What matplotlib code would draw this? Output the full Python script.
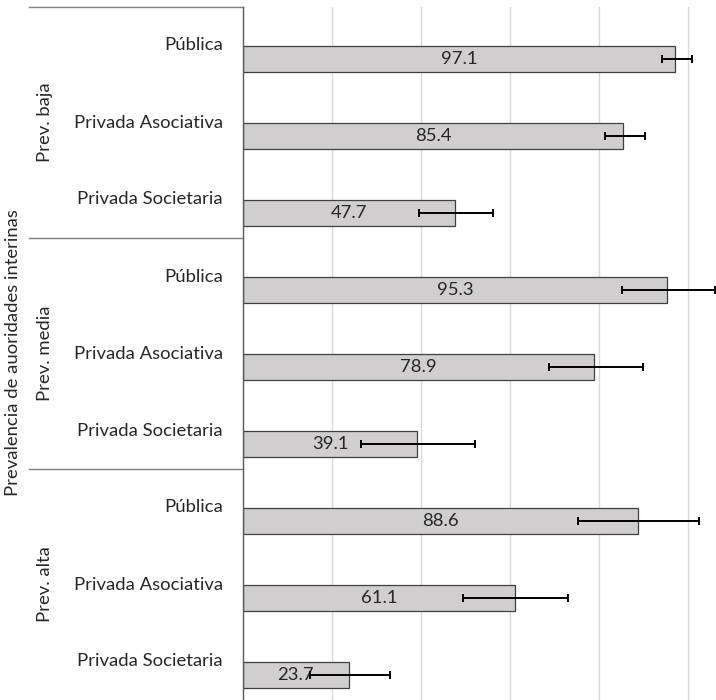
import matplotlib
matplotlib.use("Agg")
import matplotlib.pyplot as plt
import matplotlib.transforms as mtrans
import numpy as np

plt.rcParams['font.family'] = ['Lato', 'DejaVu Sans']

groups = ["Prev. baja", "Prev. media", "Prev. alta"]
categories = ["Pública", "Privada Asociativa", "Privada Societaria"]
values = [97.1, 85.4, 47.7, 95.3, 78.9, 39.1, 88.6, 61.1, 23.7]
err_low = [94.0, 81.2, 39.6, 85.0, 68.6, 26.5, 75.3, 49.5, 15.1]
err_high = [100.8, 90.3, 56.1, 105.9, 89.8, 52.0, 102.4, 72.9, 33.0]
xticks = [0, 20, 40, 60, 80, 100]
ylabel = "Prevalencia de auoridades interinas"

W, H = 716, 700
fig = plt.figure(figsize=(W / 100, H / 100), dpi=100)
ax_left, ax_top = 243, 7
ax = fig.add_axes([ax_left / W, 0, (W - ax_left) / W, (H - ax_top) / H])

n = len(values)
y = np.arange(n)
vals = np.array(values)
lo = vals - np.array(err_low)
hi = np.array(err_high) - vals

ax.set_xlim(0, 106.2)
ax.set_ylim(8.33, -0.67)

for xv in xticks[1:]:
    ax.axvline(xv, color="#d9d9d9", lw=1.0, zorder=0)

ax.barh(y, vals, height=0.34, color="#d0cece", edgecolor="#404040",
        linewidth=0.9, zorder=2)
ax.errorbar(vals, y, xerr=[lo, hi], fmt="none", ecolor="black",
            elinewidth=1.4, capsize=2.8, capthick=1.4, zorder=4,
            clip_on=False)

fs = 13.3
for i, v in enumerate(values):
    ax.text(v / 2, i, f"{v:.1f}", ha="center", va="center", fontsize=fs,
            color="#262626", zorder=3)

for sp in ["top", "right", "bottom"]:
    ax.spines[sp].set_visible(False)
ax.spines["left"].set_color("#595959")
ax.spines["left"].set_linewidth(1.0)
ax.set_xticks([])
ax.set_yticks([])

trans = mtrans.blended_transform_factory(ax.transAxes, ax.transData)
axw = W - ax_left
lab_x = (223 - ax_left) / axw
grp_x = (45 - ax_left) / axw
sep_x0 = (29 - ax_left) / axw

ng = len(categories)
for i in range(n):
    ax.text(lab_x, i - 0.17, categories[i % ng], ha="right", va="center",
            fontsize=fs, color="#262626", transform=trans)

for g, name in enumerate(groups):
    ax.text(grp_x, g * ng + 1 - 0.17, name, ha="center", va="center",
            rotation=90, fontsize=fs, color="#262626", transform=trans)
    yb = g * ng - 0.67
    ax.plot([sep_x0, 0], [yb, yb], color="#7f7f7f", lw=1.0,
            transform=trans, clip_on=False)

fig.text(13 / W, 1 - 353 / H, ylabel, rotation=90, ha="center", va="center",
         fontsize=fs, color="#262626")

fig.savefig("out.png", dpi=100, facecolor="white")
